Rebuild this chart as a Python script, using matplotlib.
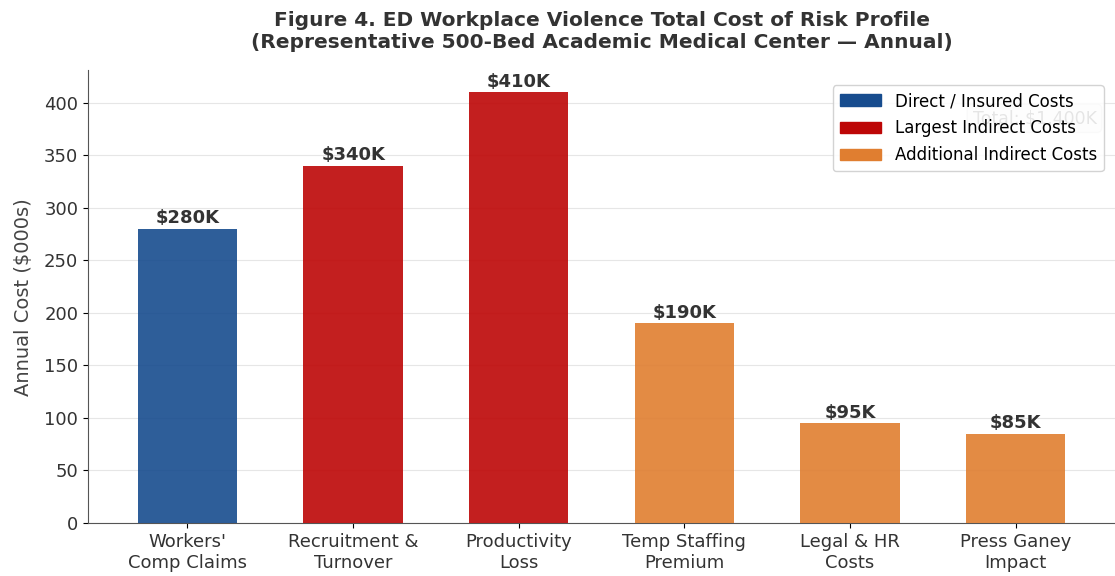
import numpy as np
import matplotlib.pyplot as plt
from matplotlib.patches import Patch

# Data
categories = ["Workers'\nComp Claims", "Recruitment &\nTurnover", "Productivity\nLoss",
              "Temp Staffing\nPremium", "Legal & HR\nCosts", "Press Ganey\nImpact"]
costs = [280, 340, 410, 190, 95, 85]
groups = ["direct", "largest", "largest", "additional", "additional", "additional"]
group_labels = {"direct": "Direct / Insured Costs",
                "largest": "Largest Indirect Costs",
                "additional": "Additional Indirect Costs"}
group_colors = {"direct": "#174C8E", "largest": "#BD0606", "additional": "#E07E30"}

fig = plt.figure(figsize=(11.15, 5.76), dpi=100)
ax = fig.add_axes([0.079, 0.092, 0.921, 0.786])

x = np.arange(len(categories))
bars = ax.bar(x, costs, width=0.6, color=[group_colors[g] for g in groups],
              alpha=0.9, zorder=3)

# value labels
for xi, v in zip(x, costs):
    ax.text(xi, v + 1.5, f"${v}K", ha="center", va="bottom", fontsize=13,
            fontweight="bold", color="#333333", zorder=4)

# total box (mostly hidden behind the legend)
total = sum(costs)
ax.text(0.982, 0.894, f"Total: ${total:,}K", transform=ax.transAxes, ha="right",
        va="center", fontsize=12.5, color="#555555", zorder=2,
        bbox=dict(boxstyle="round,pad=0.3", fc="#f7f7f7", ec="#dddddd"))

ax.set_xticks(x)
ax.set_xticklabels(categories, fontsize=13, color="#333333")
ax.set_xlim(-0.6, 5.6)
ax.set_ylim(0, 431)
ax.set_yticks(range(0, 401, 50))
ax.tick_params(axis="y", labelsize=13, labelcolor="#333333")
ax.set_ylabel("Annual Cost ($000s)", fontsize=14, color="#444444", labelpad=8)

ax.yaxis.grid(True, color="#e6e6e6", linewidth=0.8, zorder=0)
ax.set_axisbelow(True)
ax.spines["top"].set_visible(False)
ax.spines["right"].set_visible(False)
ax.spines["left"].set_color("#555555")
ax.spines["bottom"].set_color("#555555")

handles = [Patch(color=group_colors[g], label=group_labels[g])
           for g in ["direct", "largest", "additional"]]
leg = ax.legend(handles=handles, loc="upper right", fontsize=12, framealpha=0.85,
                bbox_to_anchor=(0.997, 0.985), handlelength=2.5, labelspacing=0.55)
leg.set_zorder(5)

ax.set_title("Figure 4. ED Workplace Violence Total Cost of Risk Profile\n"
             "(Representative 500-Bed Academic Medical Center \u2014 Annual)",
             fontsize=14.5, fontweight="bold", color="#333333", pad=16)

fig.savefig("out.png", dpi=100)
